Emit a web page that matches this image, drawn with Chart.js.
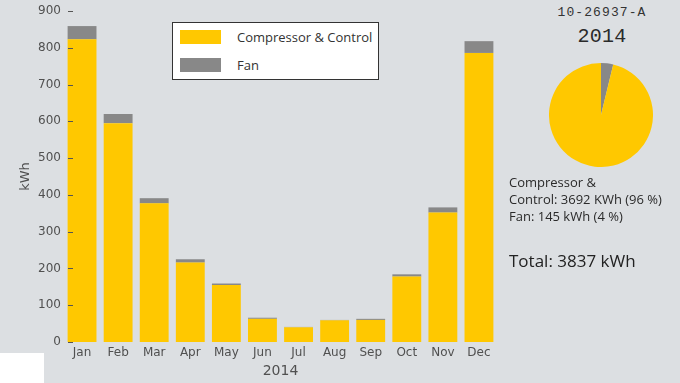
<!DOCTYPE html>
<html>
<head>
<meta charset="utf-8">
<script src="https://cdn.jsdelivr.net/npm/chart.js@4.4.1/dist/chart.umd.min.js"></script>
<style>
  body { margin: 0; background: #dcdfe2; }
  #page { position: relative; width: 680px; height: 383px; overflow: hidden; background: #dcdfe2; }
  #barBox { position: absolute; left: 0; top: 0; width: 510px; height: 383px; }
  #pieBox { position: absolute; left: 549px; top: 63px; width: 104px; height: 104px; }
  #corner { position: absolute; left: 0; top: 353px; width: 44px; height: 30px; background: #fff; }
  .legend {
    position: absolute; left: 172px; top: 22px; width: 207px; height: 58px;
    box-sizing: border-box; background: #fff; border: 1px solid #333;
    font-family: 'Open Sans', sans-serif; font-size: 13px; color: #333;
  }
  .legend .item { position: absolute; left: 7px; height: 14px; line-height: 14px; white-space: nowrap; }
  .legend .swatch { display: inline-block; width: 41px; height: 14px; vertical-align: top; margin-right: 16px; }
  .code { position: absolute; left: 540px; width: 124px; text-align: center; font-family: 'Liberation Mono', monospace; color: #333; }
  #unitCode { top: 5px; font-size: 13px; letter-spacing: 1.1px; }
  #yearTitle { top: 25px; font-size: 20px; letter-spacing: 0.3px; color: #2a2a2a; }
  .summary { position: absolute; left: 509px; font-family: 'Open Sans', sans-serif; color: #2a2a2a; white-space: nowrap; }
  #split { top: 174px; font-size: 13px; line-height: 17px; }
  #total { top: 249px; font-size: 17px; color: #222; }
</style>
</head>
<body>
<div id="page">
  <div id="barBox"><canvas id="barChart"></canvas></div>
  <div id="pieBox"><canvas id="pieChart"></canvas></div>
  <div id="corner"></div>
  <div class="legend" id="legend"></div>
  <div class="code" id="unitCode"></div>
  <div class="code" id="yearTitle"></div>
  <div class="summary" id="split"></div>
  <div class="summary" id="total"></div>
</div>
<script>
const unitId = '10-26937-A';
const year = '2014';
const months = ['Jan', 'Feb', 'Mar', 'Apr', 'May', 'Jun', 'Jul', 'Aug', 'Sep', 'Oct', 'Nov', 'Dec'];
const compressorKwh = [823, 595, 377, 216, 155, 63, 40, 59, 60, 178, 352, 786];
const fanKwh = [36, 25, 14, 9, 4, 3, 1, 1, 3, 6, 14, 32];
const seriesNames = ['Compressor & Control', 'Fan'];
const yearTotals = [3692, 145];
const yearShares = [96, 4];

const yellow = '#ffc800';
const grey = '#888888';
const seriesColors = [yellow, grey];

// short dashes next to each y tick, drawn over the bars
const yTickDashes = {
  id: 'yTickDashes',
  afterDatasetsDraw(chart) {
    const y = chart.scales.y;
    const ctx = chart.ctx;
    ctx.save();
    ctx.strokeStyle = '#555';
    ctx.lineWidth = 1;
    y.ticks.forEach((t) => {
      const py = Math.round(y.getPixelForValue(t.value)) + 0.5;
      ctx.beginPath();
      ctx.moveTo(chart.chartArea.left + 4, py);
      ctx.lineTo(chart.chartArea.left + 9, py);
      ctx.stroke();
    });
    ctx.restore();
  },
};

const tickFont = { family: 'DejaVu Sans', size: 12 };
const axisColor = '#505050';

new Chart(document.getElementById('barChart'), {
  type: 'bar',
  data: {
    labels: months,
    datasets: [
      { label: seriesNames[0], data: compressorKwh, backgroundColor: yellow },
      { label: seriesNames[1], data: fanKwh, backgroundColor: grey },
    ],
  },
  options: {
    responsive: true,
    maintainAspectRatio: false,
    animation: false,
    layout: { padding: { top: 11, right: 13, left: 0, bottom: 0 } },
    datasets: { bar: { categoryPercentage: 1, barPercentage: 0.8, borderWidth: 0 } },
    plugins: { legend: { display: false }, tooltip: { enabled: false } },
    scales: {
      x: {
        stacked: true,
        grid: { display: false, drawTicks: false },
        border: { display: false },
        ticks: { font: tickFont, color: axisColor, padding: 4, maxRotation: 0 },
        title: { display: true, text: year, font: { family: 'DejaVu Sans', size: 14 }, color: axisColor, padding: { top: 0, bottom: 3 } },
        afterFit(scale) { scale.height = 41; },
      },
      y: {
        stacked: true,
        min: 0,
        max: 900,
        grid: { display: false, drawTicks: false },
        border: { display: false },
        ticks: { stepSize: 100, font: tickFont, color: axisColor, padding: 3 },
        title: { display: true, text: 'kWh', font: { family: 'DejaVu Sans', size: 13 }, color: axisColor, padding: { top: 18, bottom: 0 } },
        afterFit(scale) { scale.width = 64; },
      },
    },
  },
  plugins: [yTickDashes],
});

// yearly split: fan slice first so it starts at 12 o'clock
new Chart(document.getElementById('pieChart'), {
  type: 'pie',
  data: {
    labels: [seriesNames[1], seriesNames[0]],
    datasets: [{ data: [yearTotals[1], yearTotals[0]], backgroundColor: [grey, yellow], borderWidth: 0 }],
  },
  options: {
    responsive: true,
    maintainAspectRatio: false,
    animation: false,
    plugins: { legend: { display: false }, tooltip: { enabled: false } },
  },
});

// legend box
const legend = document.getElementById('legend');
seriesNames.forEach((name, i) => {
  const item = document.createElement('div');
  item.className = 'item';
  item.style.top = (i === 0 ? 7 : 35) + 'px';
  item.innerHTML = '<span class="swatch" style="background:' + seriesColors[i] + '"></span>' + name.replace('&', '&amp;');
  legend.appendChild(item);
});

document.getElementById('unitCode').textContent = unitId;
document.getElementById('yearTitle').textContent = year;
document.getElementById('split').innerHTML =
  'Compressor &amp;<br>Control: ' + yearTotals[0] + ' KWh (' + yearShares[0] + ' %)<br>' +
  'Fan: ' + yearTotals[1] + ' kWh (' + yearShares[1] + ' %)';
document.getElementById('total').textContent = 'Total: ' + (yearTotals[0] + yearTotals[1]) + ' kWh';
</script>
</body>
</html>
